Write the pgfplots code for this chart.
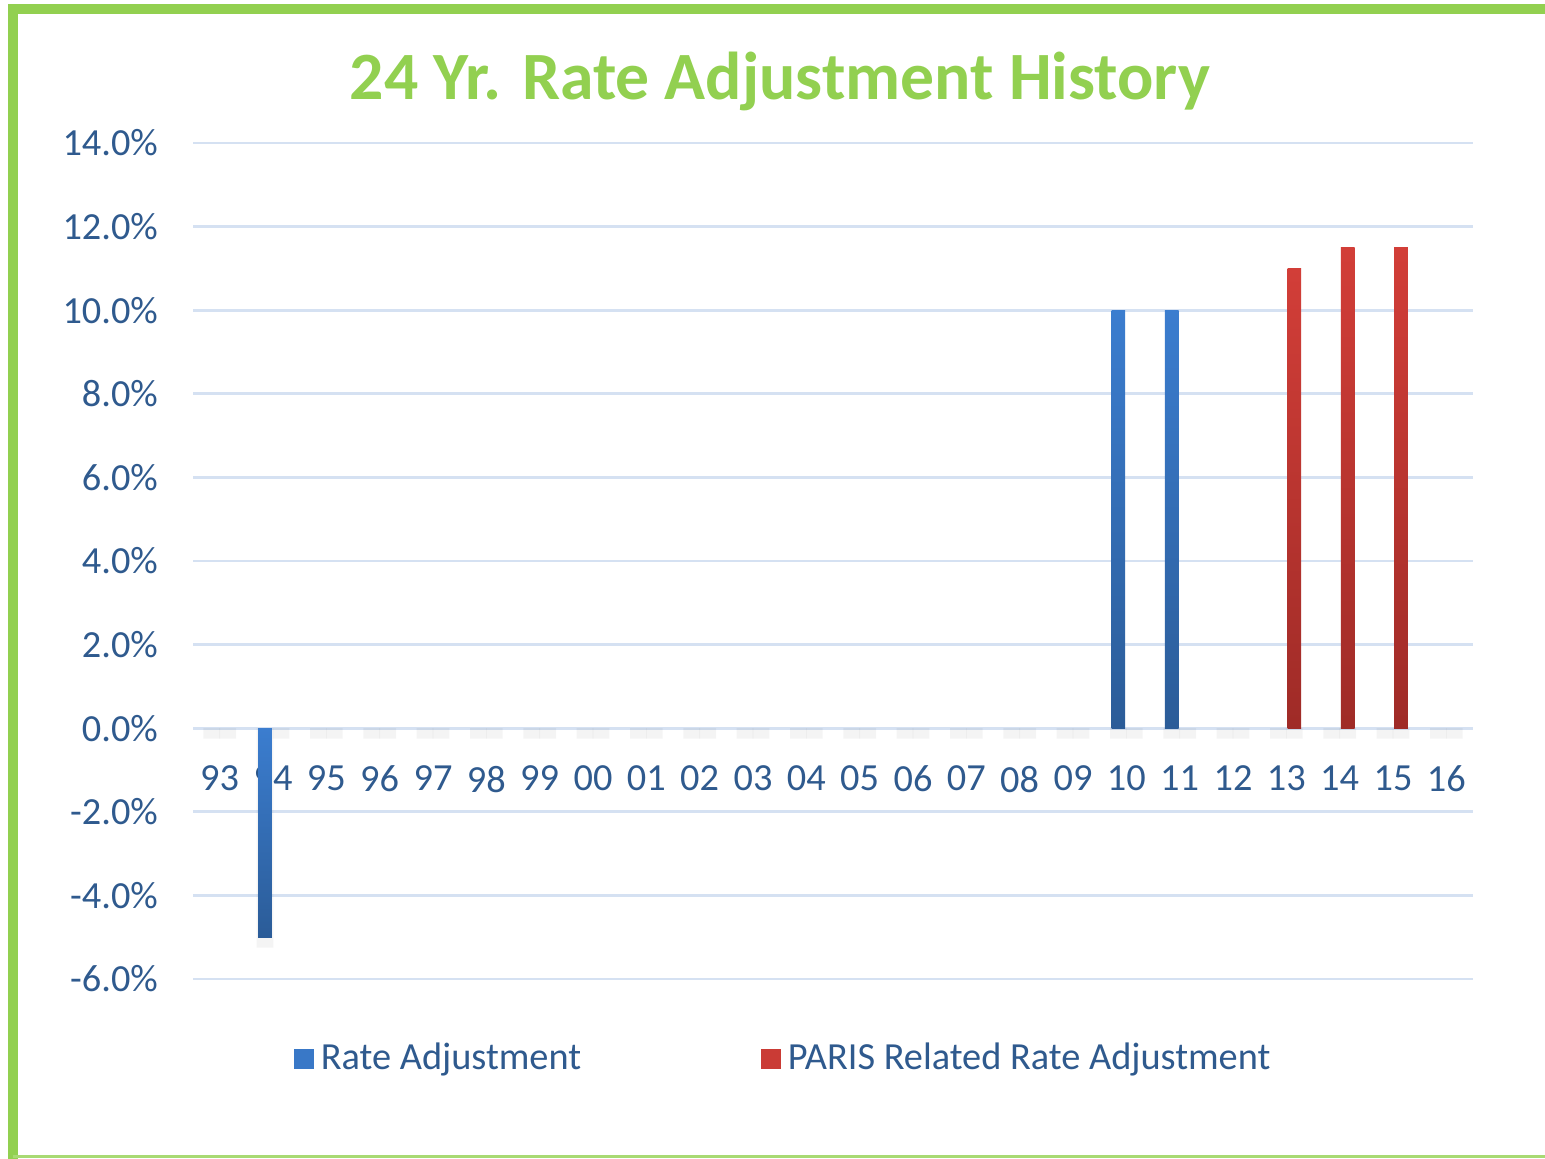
\documentclass[border=0pt]{standalone}
\usepackage{pgfplots}
\pgfplotsset{compat=1.18}
\usepackage{fontspec}
\setmainfont{Carlito}
\definecolor{bordergreen}{HTML}{92D050}
\definecolor{tickblue}{HTML}{2F5A8E}
\definecolor{gridblue}{HTML}{D5E1F2}
\definecolor{bluetop}{HTML}{3B7DCF}
\definecolor{bluebot}{HTML}{2B5C98}
\definecolor{redtop}{HTML}{D23E38}
\definecolor{redbot}{HTML}{9F2B27}
\begin{document}
\begin{tikzpicture}
\path[use as bounding box] (0,0) rectangle (463.5pt,347.7pt);
\fill[white] (0,0) rectangle (463.5pt,347.7pt);
% border
\draw[bordergreen, line width=3pt] (3.9pt,0) -- (3.9pt,344.85pt) -- (463.5pt,344.85pt);
\draw[bordergreen!80, line width=0.9pt] (3.9pt,0.75pt) -- (463.5pt,0.75pt);
\node[anchor=base, text=bordergreen, font=\fontsize{20.3pt}{24pt}\selectfont\bfseries] at (234pt,317.7pt) {24 Yr. Rate Adjustment History};
\begin{axis}[
  scale only axis,
  width=384pt, height=250.8pt,
  at={(57.9pt,54pt)}, anchor=south west,
  xmin=-0.5, xmax=23.5,
  ymin=-6, ymax=14,
  axis x line*=middle,
  axis y line*=left,
  x axis line style={draw=gridblue, line width=0.8pt, -},
  y axis line style={draw=none},
  major tick length=0pt,
  xtick={0,...,23},
  xticklabels={93,94,95,96,97,98,99,00,01,02,03,04,05,06,07,08,09,10,11,12,13,14,15,16},
  ytick={-6,-4,...,14},
  yticklabels={-6.0\%,-4.0\%,-2.0\%,0.0\%,2.0\%,4.0\%,6.0\%,8.0\%,10.0\%,12.0\%,14.0\%},
  ymajorgrids,
  major grid style={draw=gridblue, line width=0.8pt},
  tick label style={text=tickblue, font=\fontsize{11.5pt}{13pt}\selectfont},
  xticklabel style={yshift=-7.8pt},
  yticklabel style={xshift=-7pt},
  legend style={at={(0.463,-0.0955)}, anchor=center, draw=none, fill=none,
    legend columns=2, font=\fontsize{11.5pt}{13pt}\selectfont, text=tickblue,
    /tikz/every even column/.append style={column sep=52pt}},
  legend image code/.code={\fill[#1,draw=none] (0pt,-3pt) rectangle (6pt,3pt);},
  clip=false,
]
% shadows
\addplot[ybar, bar width=5pt, bar shift=-2.4pt, draw=none, fill=black, opacity=0.045, forget plot]
  coordinates {(0,-0.25)(1,-5.25)(2,-0.25)(3,-0.25)(4,-0.25)(5,-0.25)(6,-0.25)(7,-0.25)(8,-0.25)(9,-0.25)(10,-0.25)(11,-0.25)(12,-0.25)(13,-0.25)(14,-0.25)(15,-0.25)(16,-0.25)(17,-0.25)(18,-0.25)(19,-0.25)(20,-0.25)(21,-0.25)(22,-0.25)(23,-0.25)};
\addplot[ybar, bar width=5pt, bar shift=2.4pt, draw=none, fill=black, opacity=0.045, forget plot]
  coordinates {(0,-0.25)(1,-0.25)(2,-0.25)(3,-0.25)(4,-0.25)(5,-0.25)(6,-0.25)(7,-0.25)(8,-0.25)(9,-0.25)(10,-0.25)(11,-0.25)(12,-0.25)(13,-0.25)(14,-0.25)(15,-0.25)(16,-0.25)(17,-0.25)(18,-0.25)(19,-0.25)(20,-0.25)(21,-0.25)(22,-0.25)(23,-0.25)};
% Rate Adjustment (blue)
\addplot[ybar, bar width=4.1pt, bar shift=-2.4pt, draw=none, top color=bluetop, bottom color=bluebot, forget plot] coordinates {(1,-5.0)};
\addplot[ybar, bar width=4.1pt, bar shift=-2.4pt, draw=none, top color=bluetop, bottom color=bluebot, forget plot] coordinates {(17,10.0)};
\addplot[ybar, bar width=4.1pt, bar shift=-2.4pt, draw=none, top color=bluetop, bottom color=bluebot, forget plot] coordinates {(18,10.0)};
% PARIS Related Rate Adjustment (red)
\addplot[ybar, bar width=4.1pt, bar shift=2.4pt, draw=none, top color=redtop, bottom color=redbot, forget plot] coordinates {(20,11.0)};
\addplot[ybar, bar width=4.1pt, bar shift=2.4pt, draw=none, top color=redtop, bottom color=redbot, forget plot] coordinates {(21,11.5)};
\addplot[ybar, bar width=4.1pt, bar shift=2.4pt, draw=none, top color=redtop, bottom color=redbot, forget plot] coordinates {(22,11.5)};
\addlegendimage{fill=bluetop!85!bluebot}
\addlegendentry{Rate Adjustment}
\addlegendimage{fill=redtop!85!redbot}
\addlegendentry{PARIS Related Rate Adjustment}
\end{axis}
\end{tikzpicture}
\end{document}
